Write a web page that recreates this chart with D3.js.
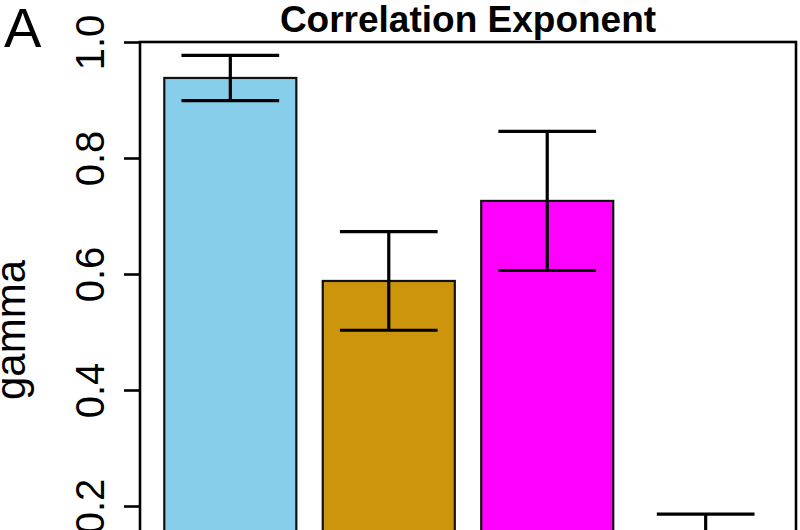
<!DOCTYPE html>
<html>
<head>
<meta charset="utf-8">
<script src="https://cdn.jsdelivr.net/npm/d3@7"></script>
<style>
  html, body { margin: 0; padding: 0; background: #fff; }
  svg { display: block; }
  text { font-family: "Liberation Sans", Arial, Helvetica, sans-serif; fill: #000; }
</style>
</head>
<body>
<svg id="chart" width="800" height="530"></svg>
<script>
// ---- data ----
const categories = ["1", "2", "3", "4"];
const values = [0.938, 0.588, 0.726, 0.11];
const errors = [0.039, 0.085, 0.12, 0.076];
const barColors = ["#87CEEB", "#CD950C", "#FF00FF", "#00CD00"];
const yTicks = [0.2, 0.4, 0.6, 0.8, 1.0];
const titleText = "Correlation Exponent";
const yLabel = "gamma";
const panelLabel = "A";

// ---- layout ----
const svg = d3.select("#chart");
const plotLeft = 140, plotRight = 796, plotTop = 42;
const barWidthU = 1, spaceU = 0.2;
const nBars = categories.length;
const xMinU = spaceU, xMaxU = nBars * (barWidthU + spaceU);
const padU = (xMaxU - xMinU) * 0.04;

const x = d3.scaleLinear()
  .domain([xMinU - padU, xMaxU + padU])
  .range([plotLeft, plotRight]);
const y = d3.scaleLinear()
  .domain([0, 1])
  .range([622, plotTop]);

const barLeft = i => spaceU + i * (barWidthU + spaceU);
const barCenter = i => barLeft(i) + barWidthU / 2;

// bars
svg.append("g").selectAll("rect")
  .data(values)
  .join("rect")
  .attr("x", (d, i) => x(barLeft(i)))
  .attr("y", d => y(d))
  .attr("width", x(barWidthU) - x(0))
  .attr("height", d => y(0) - y(d))
  .attr("fill", (d, i) => barColors[i])
  .attr("stroke", "#111")
  .attr("stroke-width", 2.2);

// error bars
const whiskerHalf = 0.37;
const eg = svg.append("g").attr("stroke", "#000").attr("stroke-width", 3.2).attr("fill", "none");
values.forEach((v, i) => {
  const cx = x(barCenter(i));
  const hi = y(v + errors[i]), lo = y(v - errors[i]);
  eg.append("line").attr("x1", cx).attr("x2", cx).attr("y1", hi).attr("y2", lo);
  eg.append("line").attr("x1", x(barCenter(i) - whiskerHalf)).attr("x2", x(barCenter(i) + whiskerHalf)).attr("y1", hi).attr("y2", hi);
  eg.append("line").attr("x1", x(barCenter(i) - whiskerHalf)).attr("x2", x(barCenter(i) + whiskerHalf)).attr("y1", lo).attr("y2", lo);
});

// plot box
svg.append("rect")
  .attr("x", plotLeft).attr("y", plotTop)
  .attr("width", plotRight - plotLeft).attr("height", 700)
  .attr("fill", "none").attr("stroke", "#000").attr("stroke-width", 2.6);

// y axis
const yAxis = d3.axisLeft(y).tickValues(yTicks).tickSize(16).tickFormat(d3.format(".1f"));
const ag = svg.append("g").attr("transform", `translate(${plotLeft},0)`).call(yAxis);
ag.select(".domain").remove();
ag.selectAll(".tick line").attr("stroke", "#000").attr("stroke-width", 2.6);
ag.selectAll(".tick text")
  .attr("x", null).attr("dy", null)
  .attr("transform", "translate(-36,0) rotate(-90)")
  .attr("text-anchor", "middle")
  .style("font-size", "40px")
  .style("font-family", "'Liberation Sans', Arial, sans-serif")
  .attr("fill", "#000");

// y label
svg.append("text")
  .attr("transform", "translate(25,330) rotate(-90)")
  .attr("text-anchor", "middle")
  .style("font-size", "42px")
  .text(yLabel);

// title
svg.append("text")
  .attr("x", (plotLeft + plotRight) / 2).attr("y", 32)
  .attr("text-anchor", "middle")
  .style("font-size", "37px").style("font-weight", "bold")
  .text(titleText);

// panel label
svg.append("text")
  .attr("x", 4).attr("y", 47)
  .style("font-size", "56px")
  .text(panelLabel);
</script>
</body>
</html>
